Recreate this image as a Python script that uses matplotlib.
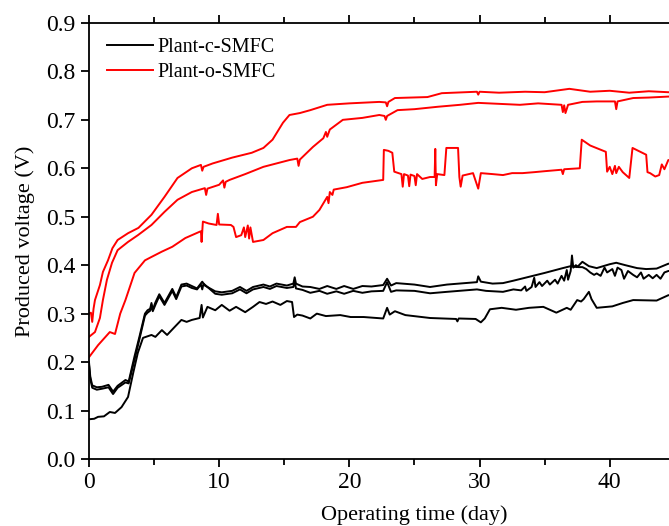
import matplotlib
matplotlib.use("Agg")
import matplotlib.pyplot as plt
from matplotlib.ticker import FixedLocator, MultipleLocator

plt.rcParams['font.family'] = ['Liberation Serif', 'DejaVu Serif']

# Plant-c-SMFC (black), three replicates
c1_x = [0, 0.1, 0.25, 0.6, 1.0, 1.5, 1.85, 2.2, 2.8, 3.05, 3.5, 3.9, 4.3, 4.5, 4.7, 4.8, 4.9, 5.1, 5.4, 5.8,
        6.4, 6.7, 7.1, 7.5, 7.9, 8.3, 8.7, 8.9, 9.7, 10.2, 11.0, 11.6, 12.1, 12.6, 13.4, 13.9, 14.4, 15.2, 15.7,
        15.8, 15.9, 16.4, 17.0, 17.7, 18.3, 19.0, 19.6, 20.3, 21.0, 21.7, 22.6, 22.9, 23.2, 23.6, 25.0, 26.2,
        27.5, 29.8, 29.9, 30.1, 31.0, 31.8, 32.6, 33.8, 35.0, 36.4, 37.0, 37.5, 37.9, 38.4, 39.0, 40.0, 40.5,
        41.2, 42.1, 42.8, 43.6, 44.5, 46]
c1_y = [0.20, 0.17, 0.152, 0.148, 0.149, 0.153, 0.139, 0.151, 0.163, 0.160, 0.212, 0.255, 0.30, 0.307, 0.31,
        0.322, 0.308, 0.323, 0.340, 0.322, 0.351, 0.334, 0.360, 0.362, 0.357, 0.352, 0.366, 0.358, 0.346, 0.344,
        0.347, 0.355, 0.347, 0.355, 0.360, 0.356, 0.362, 0.358, 0.362, 0.375, 0.362, 0.356, 0.355, 0.351, 0.357,
        0.351, 0.357, 0.351, 0.357, 0.356, 0.359, 0.372, 0.358, 0.363, 0.360, 0.355, 0.360, 0.365, 0.377, 0.366,
        0.362, 0.363, 0.368, 0.376, 0.384, 0.394, 0.398, 0.396, 0.407, 0.398, 0.394, 0.402, 0.405, 0.400, 0.394,
        0.392, 0.393, 0.403, 0.405]

c2_x = [0, 0.1, 0.25, 0.6, 1.0, 1.5, 1.85, 2.2, 2.8, 3.05, 3.5, 3.9, 4.3, 4.5, 4.7, 4.8, 4.9, 5.1, 5.4, 5.8,
        6.4, 6.7, 7.1, 7.5, 7.9, 8.3, 8.6, 8.7, 8.8, 9.7, 10.2, 11.0, 11.6, 12.1, 12.6, 13.4, 13.9, 14.4, 15.2,
        15.7, 15.8, 15.9, 16.4, 17.0, 17.7, 18.3, 19.0, 19.6, 20.3, 21.0, 21.7, 22.6, 22.9, 23.2, 23.6, 25.0,
        26.2, 27.5, 29.8, 30.5, 31.8, 32.6, 33.2, 33.5, 33.6, 34.0, 34.2, 34.3, 34.6, 34.8, 35.2, 35.4, 35.8,
        36.0, 36.3, 36.5, 36.7, 36.8, 37.0, 37.1, 37.2, 37.4, 37.6, 37.9, 38.2, 38.5, 38.8, 39.0, 39.3, 39.6,
        39.8, 40.2, 40.4, 40.6, 40.9, 41.1, 41.4, 41.8, 42.1, 42.4, 42.6, 43.0, 43.3, 43.6, 43.9, 44.2, 44.5, 46]
c2_y = [0.195, 0.165, 0.147, 0.143, 0.145, 0.148, 0.134, 0.147, 0.158, 0.156, 0.205, 0.25, 0.296, 0.302, 0.306,
        0.318, 0.305, 0.318, 0.336, 0.318, 0.347, 0.33, 0.356, 0.358, 0.353, 0.35, 0.36, 0.35, 0.362, 0.341,
        0.339, 0.342, 0.350, 0.342, 0.350, 0.355, 0.351, 0.357, 0.353, 0.355, 0.368, 0.352, 0.349, 0.343, 0.347,
        0.341, 0.346, 0.341, 0.347, 0.343, 0.346, 0.347, 0.365, 0.345, 0.348, 0.347, 0.342, 0.345, 0.350, 0.347,
        0.345, 0.350, 0.348, 0.356, 0.347, 0.355, 0.374, 0.355, 0.365, 0.357, 0.368, 0.36, 0.37, 0.362, 0.378,
        0.368, 0.39, 0.37, 0.388, 0.420, 0.395, 0.40, 0.396, 0.396, 0.392, 0.385, 0.38, 0.383, 0.378, 0.395,
        0.385, 0.392, 0.378, 0.395, 0.39, 0.372, 0.388, 0.38, 0.375, 0.385, 0.372, 0.38, 0.373, 0.38, 0.372,
        0.385, 0.388, 0.39]

c3_x = [0, 0.4, 0.7, 1.15, 1.6, 2.0, 2.5, 3.0, 3.4, 3.75, 4.15, 4.8, 5.1, 5.6, 6.0, 6.6, 7.1, 7.5, 7.9, 8.5,
        8.65, 8.75, 9.1, 9.7, 10.2, 10.8, 11.3, 12.0, 12.6, 13.1, 13.6, 14.1, 14.7, 15.2, 15.6, 15.75, 16.0,
        16.4, 17.0, 17.5, 18.2, 19.3, 20.1, 21.1, 22.6, 22.9, 23.1, 23.5, 24.3, 26.2, 28.2, 28.3, 28.4, 29.7,
        30.1, 30.4, 30.8, 31.7, 32.8, 33.8, 34.9, 35.9, 36.7, 37.0, 37.5, 37.8, 38.0, 38.4, 38.6, 39.0, 40.2,
        41.0, 41.8, 43.6, 44.5, 46]
c3_y = [0.082, 0.083, 0.087, 0.088, 0.097, 0.095, 0.107, 0.128, 0.178, 0.219, 0.25, 0.256, 0.252, 0.266, 0.256,
        0.273, 0.287, 0.283, 0.287, 0.291, 0.318, 0.292, 0.314, 0.307, 0.318, 0.306, 0.314, 0.303, 0.314, 0.324,
        0.320, 0.325, 0.318, 0.326, 0.324, 0.293, 0.298, 0.296, 0.290, 0.300, 0.295, 0.297, 0.293, 0.293, 0.290,
        0.312, 0.298, 0.305, 0.297, 0.291, 0.289, 0.284, 0.290, 0.289, 0.282, 0.290, 0.309, 0.312, 0.308, 0.312,
        0.314, 0.302, 0.312, 0.308, 0.328, 0.325, 0.33, 0.345, 0.33, 0.312, 0.315, 0.322, 0.328, 0.327, 0.338,
        0.34]

# Plant-o-SMFC (red), three replicates
o1_x = [0, 0.15, 0.25, 0.35, 0.46, 0.84, 1.07, 1.46, 1.8, 2.2, 3.0, 3.8, 4.8, 5.8, 6.8, 7.9, 8.6, 8.7, 8.8,
        9.5, 11.0, 12.5, 13.4, 14.1, 14.9, 15.4, 16.2, 17.0, 18.3, 20.0, 22.3, 22.8, 22.9, 23.0, 23.5, 26.0,
        27.1, 29.8, 29.9, 30.0, 31.5, 33.5, 35.0, 36.9, 38.5, 40.0, 41.5, 43.0, 44.5, 46]
o1_y = [0.30, 0.302, 0.283, 0.31, 0.328, 0.359, 0.386, 0.41, 0.435, 0.452, 0.466, 0.477, 0.504, 0.541, 0.58,
        0.600, 0.607, 0.595, 0.603, 0.610, 0.622, 0.632, 0.642, 0.659, 0.694, 0.710, 0.714, 0.720, 0.731, 0.734,
        0.737, 0.736, 0.728, 0.737, 0.745, 0.747, 0.755, 0.758, 0.752, 0.758, 0.756, 0.758, 0.757, 0.764, 0.758,
        0.760, 0.756, 0.759, 0.757, 0.757]

o2_x = [0, 0.46, 0.84, 1.07, 1.38, 1.77, 2.2, 3.0, 3.76, 4.8, 5.8, 6.8, 7.9, 8.9, 9.0, 9.1, 10.0, 10.3, 10.4,
        10.5, 10.8, 12.0, 13.4, 15.4, 16.0, 16.1, 16.2, 17.2, 18.0, 18.2, 18.3, 18.5, 19.5, 21.0, 22.3, 22.7,
        22.8, 22.9, 23.7, 25.0, 26.8, 28.5, 29.9, 31.5, 33.1, 34.5, 36.3, 36.4, 36.5, 36.6, 36.8, 37.9, 39.0,
        40.4, 40.5, 40.6, 41.8, 43.0, 44.5, 46]
o2_y = [0.252, 0.262, 0.291, 0.328, 0.37, 0.405, 0.431, 0.448, 0.462, 0.483, 0.51, 0.535, 0.551, 0.559, 0.545,
        0.558, 0.566, 0.575, 0.56, 0.572, 0.576, 0.588, 0.603, 0.617, 0.620, 0.605, 0.618, 0.644, 0.662, 0.675,
        0.665, 0.68, 0.70, 0.704, 0.71, 0.708, 0.70, 0.708, 0.72, 0.722, 0.727, 0.731, 0.735, 0.733, 0.731,
        0.734, 0.731, 0.716, 0.73, 0.714, 0.731, 0.737, 0.738, 0.738, 0.722, 0.738, 0.745, 0.746, 0.748, 0.748]

o3_x = [0, 0.7, 1.6, 2.0, 2.4, 2.8, 3.5, 4.3, 4.8, 5.6, 6.4, 7.4, 8.5, 8.6, 8.65, 8.75, 9.2, 9.8, 9.9, 10.0,
        10.9, 11.1, 11.3, 11.7, 11.9, 12.0, 12.2, 12.3, 12.4, 12.6, 13.4, 14.1, 15.2, 15.9, 16.2, 17.2, 17.7,
        18.3, 18.4, 18.5, 18.7, 18.8, 19.8, 21.0, 22.6, 22.65, 23.0, 23.3, 23.45, 24.0, 24.1, 24.2, 24.5, 24.6,
        24.7, 25.0, 25.1, 25.2, 25.6, 26.2, 26.55, 26.6, 26.65, 26.75, 27.3, 27.45, 28.35, 28.45, 28.55, 28.7,
        29.5, 29.9, 30.1, 31.0, 31.8, 32.5, 33.3, 34.2, 35.0, 36.3, 36.4, 36.5, 37.7, 37.85, 38.5, 39.7, 39.8,
        40.0, 40.2, 40.4, 40.5, 40.7, 41.0, 41.5, 41.75, 42.8, 42.9, 43.1, 43.5, 43.8, 44.0, 44.2, 44.5, 46]
o3_y = [0.21, 0.235, 0.262, 0.258, 0.30, 0.328, 0.384, 0.41, 0.417, 0.428, 0.438, 0.456, 0.469, 0.470, 0.448,
        0.490, 0.486, 0.483, 0.506, 0.484, 0.483, 0.479, 0.458, 0.462, 0.478, 0.458, 0.482, 0.455, 0.478, 0.448,
        0.452, 0.466, 0.479, 0.479, 0.489, 0.50, 0.514, 0.541, 0.528, 0.551, 0.545, 0.556, 0.561, 0.570, 0.576,
        0.638, 0.636, 0.632, 0.593, 0.588, 0.562, 0.588, 0.585, 0.563, 0.587, 0.584, 0.565, 0.588, 0.578, 0.582,
        0.582, 0.640, 0.565, 0.588, 0.586, 0.642, 0.642, 0.582, 0.562, 0.585, 0.59, 0.558, 0.59, 0.588, 0.586,
        0.59, 0.59, 0.592, 0.594, 0.597, 0.588, 0.598, 0.600, 0.659, 0.647, 0.634, 0.593, 0.603, 0.588, 0.605,
        0.59, 0.603, 0.592, 0.58, 0.642, 0.628, 0.592, 0.59, 0.583, 0.586, 0.608, 0.598, 0.617, 0.617]

x_major = [0, 10, 20, 30, 40]
x_minor = [5, 15, 25, 35, 45]

fig = plt.figure(figsize=(6.69, 5.26), dpi=100)
ax = fig.add_axes([0.133, 0.1274, 0.973, 0.829])

lw = 1.4
ax.plot(c1_x, c1_y, color='black', lw=lw, label='Plant-c-SMFC')
ax.plot(c2_x, c2_y, color='black', lw=lw)
ax.plot(c3_x, c3_y, color='black', lw=lw)
ax.plot(o1_x, o1_y, color='red', lw=lw, label='Plant-o-SMFC')
ax.plot(o2_x, o2_y, color='red', lw=lw)
ax.plot(o3_x, o3_y, color='red', lw=lw)

ax.set_xlim(0, 50)
ax.set_ylim(0, 0.9)
ax.xaxis.set_major_locator(FixedLocator(x_major))
ax.xaxis.set_minor_locator(FixedLocator(x_minor))
ax.yaxis.set_major_locator(MultipleLocator(0.1))
ax.yaxis.set_major_formatter(plt.FuncFormatter(lambda v, p: f"{v:.1f}"))

for s in ax.spines.values():
    s.set_linewidth(1.3)
ax.tick_params(axis='both', which='major', labelsize=17, width=1.3, length=6, direction='out')
ax.tick_params(axis='x', which='minor', width=1.3, length=4, direction='out')
ax.tick_params(axis='x', which='both', top=True)

ax.set_xlabel('Operating time (day)', fontsize=16, labelpad=9)
ax.set_ylabel('Produced voltage (V)', fontsize=16, labelpad=8)

ax.legend(loc='upper left', bbox_to_anchor=(0.027, 0.965), frameon=False, fontsize=14.5,
          handlelength=2.3, handletextpad=0.25, labelspacing=0.3, borderaxespad=0, borderpad=0)

fig.savefig('out.png', dpi=100)
